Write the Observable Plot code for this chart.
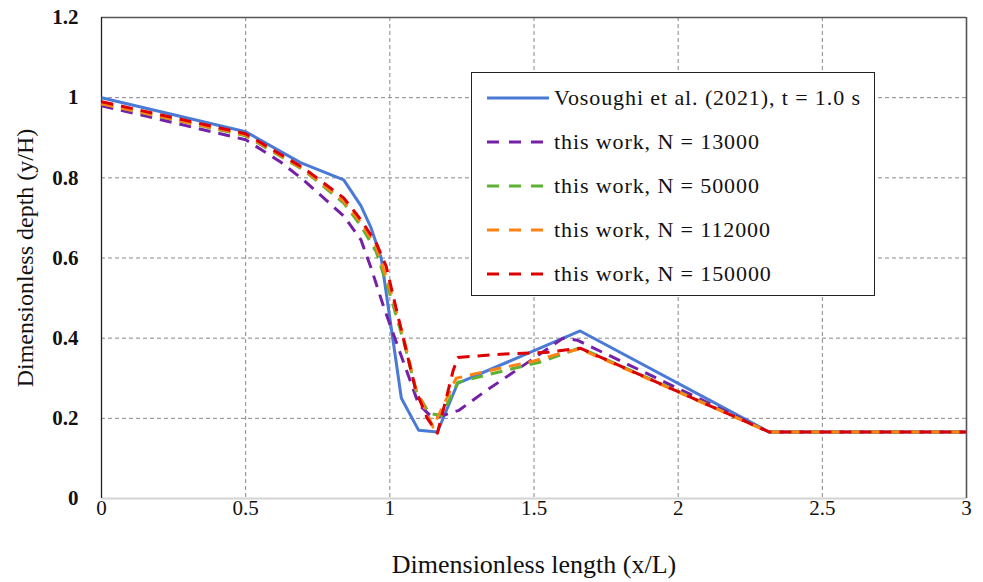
<!DOCTYPE html>
<html>
<head>
<meta charset="utf-8">
<script src="https://cdn.jsdelivr.net/npm/d3@7"></script>
<script src="https://cdn.jsdelivr.net/npm/@observablehq/plot@0.6"></script>
<style>
  html, body { margin: 0; padding: 0; background: #fff; }
  #wrap { position: relative; width: 983px; height: 582px; font-family: "Liberation Serif", serif; }
  #wrap svg text { font-family: "Liberation Serif", serif !important; }
  #wrap svg g[aria-label="x-axis tick label"] text { font-size: 21px !important; }
  #wrap svg g[aria-label="y-axis tick label"] text { font-size: 21px !important; font-weight: bold !important; }
  #wrap svg g[aria-label="x-axis label"] text { font-size: 26px !important; }
  #wrap svg g[aria-label="y-axis label"] text { font-size: 24px !important; font-weight: normal !important; }
  #legend { position: absolute; left: 471px; top: 72px; width: 404px; height: 224px; box-sizing: border-box;
            border: 1px solid #222; background: #fff; }
  .row { position: absolute; left: 15px; height: 30px; display: flex; align-items: center; }
  .row svg { margin-right: 5px; }
  .row span { font-family: "Liberation Serif", serif; font-size: 22px; letter-spacing: 0.9px; color: #111; white-space: nowrap; }
</style>
</head>
<body>
<div id="wrap"></div>
<script>
// ---- data ----
const xTicks = [0, 0.5, 1, 1.5, 2, 2.5, 3];
const yTicks = [0, 0.2, 0.4, 0.6, 0.8, 1, 1.2];
const xTickLabels = ["0", "0.5", "1", "1.5", "2", "2.5", "3"];
const yTickLabels = ["0", "0.2", "0.4", "0.6", "0.8", "1", "1.2"];

const seriesNames = ["Vosoughi et al. (2021), t = 1.0 s", "this work, N = 13000", "this work, N = 50000", "this work, N = 112000", "this work, N = 150000"];
const seriesColors = ["#4a7ad6", "#7421a8", "#5db233", "#ff8214", "#dc0000"];

const vosX = [0, 0.5, 0.69, 0.84, 0.90, 0.935, 0.97, 1.04, 1.10, 1.165, 1.235, 1.66, 2.315, 3];
const vosY = [1.0, 0.915, 0.838, 0.795, 0.73, 0.675, 0.60, 0.25, 0.17, 0.166, 0.287, 0.418, 0.166, 0.166];

const n13X = [0, 0.5, 0.62, 0.70, 0.84, 0.90, 0.935, 0.98, 1.05, 1.10, 1.15, 1.175, 1.24, 1.32, 1.50, 1.60, 1.65, 2.315, 3];
const n13Y = [0.98, 0.895, 0.84, 0.795, 0.705, 0.645, 0.575, 0.475, 0.335, 0.235, 0.20, 0.205, 0.22, 0.262, 0.35, 0.40, 0.395, 0.166, 0.166];

const n50X = [0, 0.5, 0.70, 0.84, 0.90, 0.953, 1.0, 1.05, 1.09, 1.137, 1.18, 1.236, 1.375, 1.52, 1.66, 2.315, 3];
const n50Y = [0.985, 0.905, 0.82, 0.737, 0.68, 0.615, 0.51, 0.387, 0.27, 0.212, 0.207, 0.29, 0.315, 0.34, 0.376, 0.166, 0.166];

const n112X = [0, 0.5, 0.70, 0.84, 0.90, 0.953, 1.0, 1.05, 1.09, 1.15, 1.23, 1.35, 1.50, 1.59, 1.66, 2.315, 3];
const n112Y = [0.985, 0.907, 0.822, 0.742, 0.688, 0.628, 0.525, 0.395, 0.275, 0.178, 0.30, 0.32, 0.343, 0.362, 0.373, 0.166, 0.166];

const n150X = [0, 0.5, 0.70, 0.84, 0.90, 0.953, 0.987, 1.03, 1.09, 1.13, 1.165, 1.22, 1.236, 1.385, 1.55, 1.66, 2.315, 3];
const n150Y = [0.99, 0.91, 0.825, 0.75, 0.695, 0.637, 0.58, 0.45, 0.27, 0.20, 0.163, 0.32, 0.352, 0.36, 0.365, 0.375, 0.166, 0.166];

const seriesX = [vosX, n13X, n50X, n112X, n150X];
const seriesY = [vosY, n13Y, n50Y, n112Y, n150Y];

// ---- build table ----
const rows = [];
seriesX.forEach((xs, i) => xs.forEach((x, j) => rows.push({series: seriesNames[i], x, y: seriesY[i][j]})));

const gridX = xTicks.slice(1, -1);
const gridY = yTicks.slice(1, -1);
const serif = "Liberation Serif, serif";

const lineMarks = seriesNames.map((name, i) =>
  Plot.line(rows.filter(d => d.series === name), {
    x: "x", y: "y", stroke: seriesColors[i], strokeWidth: 3,
    strokeDasharray: i === 0 ? null : "12,8", strokeLinejoin: "round", strokeLinecap: "butt"
  })
);

const chart = Plot.plot({
  width: 983, height: 582,
  marginLeft: 101, marginRight: 17, marginTop: 17, marginBottom: 84,
  style: {fontFamily: serif, fontSize: "19px", color: "#111", background: "#fff"},
  x: {domain: [0, 3]},
  y: {domain: [0, 1.2]},
  marks: [
    Plot.ruleX(gridX, {stroke: "#888", strokeWidth: 1, strokeDasharray: "4,3"}),
    Plot.ruleY(gridY, {stroke: "#888", strokeWidth: 1, strokeDasharray: "4,3"}),
    Plot.ruleY([0], {stroke: "#d4d4d4", strokeWidth: 2}),
    Plot.ruleY([1.2], {stroke: "#555", strokeWidth: 1.3}),
    Plot.ruleX([3], {stroke: "#555", strokeWidth: 1.6}),
    Plot.ruleX([0], {stroke: "#222", strokeWidth: 1.3}),
    ...lineMarks,
    Plot.axisX(xTicks, {tickSize: 0, tickPadding: 2, fontSize: 21, fontFamily: serif,
      tickFormat: d => xTickLabels[xTicks.indexOf(d)], label: null}),
    Plot.axisX({label: "Dimensionless length (x/L)", labelAnchor: "center", labelOffset: 74, labelArrow: "none",
      ticks: [], tickSize: 0, fontSize: 26, fontFamily: serif}),
    Plot.axisY(yTicks, {tickSize: 0, tickPadding: 23, fontSize: 21, fontWeight: "bold", fontFamily: serif,
      tickFormat: d => yTickLabels[yTicks.indexOf(d)], label: null}),
    Plot.axisY({label: "Dimensionless depth (y/H)", labelAnchor: "center", labelOffset: 86, labelArrow: "none",
      ticks: [], tickSize: 0, fontSize: 24, fontFamily: serif})
  ]
});
document.getElementById("wrap").appendChild(chart);

// ---- legend ----
const legend = document.createElement("div");
legend.id = "legend";
seriesNames.forEach((name, i) => {
  const row = document.createElement("div");
  row.className = "row";
  row.style.top = (10 + i * 44) + "px";
  const dash = i === 0 ? "" : `stroke-dasharray="12,10"`;
  row.innerHTML = `<svg width="62" height="10"><line x1="0" y1="5" x2="62" y2="5" stroke="${seriesColors[i]}" stroke-width="3" ${dash}/></svg><span>${name}</span>`;
  legend.appendChild(row);
});
document.getElementById("wrap").appendChild(legend);
</script>
</body>
</html>
